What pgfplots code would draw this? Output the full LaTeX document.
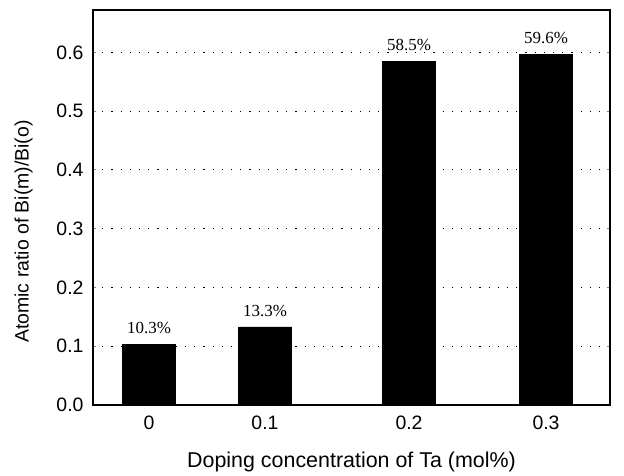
\documentclass[border=0pt]{standalone}
\usepackage{fontspec}
\setmainfont{Liberation Sans}
\newfontfamily\labelfont{Liberation Serif}
\usepackage{pgfplots}
\pgfplotsset{compat=1.18}

\begin{document}
\begin{tikzpicture}
\begin{axis}[
  scale only axis,
  width=517bp, height=395bp,
  xmin=93, xmax=610,
  ymin=0, ymax=0.672,
  axis line style={line width=1.6bp},
  xtick={149,265,409,546},
  xticklabels={0,0.1,0.2,0.3},
  xtick style={draw=none},
  ytick={0,0.1,0.2,0.3,0.4,0.5,0.6},
  yticklabel style={xshift=-6bp, /pgf/number format/.cd, fixed, fixed zerofill, precision=1},
  /pgf/number format/assume math mode=true,
  tick align=inside,
  major tick length=3bp,
  ytick style={line width=0.8bp},
  ymajorgrids,
  major grid style={black, line width=0.9bp, dash pattern=on 1.2bp off 8bp},
  ticklabel style={font=\fontsize{19.5}{22}\selectfont},
  xticklabel style={yshift=-7bp},
  xlabel style={font=\fontsize{21.5}{24}\selectfont, yshift=-16bp},
  ylabel style={font=\fontsize{19.5}{22}\selectfont, yshift=17bp, xshift=-24bp},
  xlabel={Doping concentration of Ta (mol\%)},
  ylabel={Atomic ratio of Bi(m)/Bi(o)},
]
\addplot[ybar, bar width=53, fill=black, draw=black,
  point meta=explicit symbolic,
  nodes near coords={\pgfplotspointmeta},
  nodes near coords style={font=\labelfont\fontsize{17}{19}\selectfont, yshift=7bp}]
  coordinates {
    (149,0.103) [10.3\%]
    (265,0.133) [13.3\%]
    (409,0.585) [58.5\%]
    (546,0.596) [59.6\%]
  };
\end{axis}
\path ([shift={(-93bp,-63bp)}]current axis.south west)
  rectangle ([shift={(14bp,10bp)}]current axis.north east);
\end{tikzpicture}
\end{document}
